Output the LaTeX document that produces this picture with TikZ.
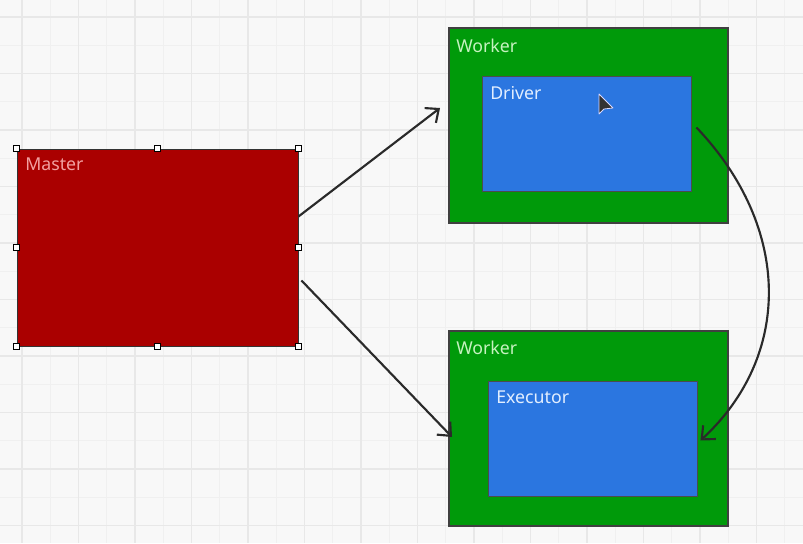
\documentclass[tikz,border=0pt]{standalone}
\usepackage{fontspec}
\setmainfont{Noto Sans}
\usetikzlibrary{arrows.meta,calc}
\definecolor{bgc}{HTML}{F8F8F8}
\definecolor{gridmaj}{HTML}{E8E8E8}
\definecolor{gridmin}{HTML}{F0F0F0}
\definecolor{mred}{HTML}{AA0000}
\definecolor{mredtext}{HTML}{F2A0A0}
\definecolor{wgreen}{HTML}{009A0A}
\definecolor{wgreentext}{HTML}{C6F2C0}
\definecolor{dblue}{HTML}{2B76E0}
\definecolor{dbluetext}{HTML}{E2EEFF}
\definecolor{linec}{HTML}{2A2A2A}
\tikzset{
  majline/.style={gridmaj, line width=0.9pt},
  minline/.style={gridmin, line width=0.6pt},
  masterbox/.style={rectangle, fill=mred, draw=black!80, line width=0.7pt, inner sep=0pt},
  workerbox/.style={rectangle, fill=wgreen, draw=black!75, line width=0.8pt, inner sep=0pt},
  innerbox/.style={rectangle, fill=dblue, draw=black!70, line width=0.7pt, inner sep=0pt},
  boxlabel/.style={anchor=north west, inner sep=0pt, font=\fontsize{13.3pt}{15pt}\selectfont},
  handle/.style={rectangle, fill=white, draw=black, line width=0.5pt, minimum size=4.5pt, inner sep=0pt},
  conn/.style={linec, line width=1.6pt, -{Straight Barb[length=8pt,width=14pt,line width=1.6pt]}},
}
\begin{document}
\begin{tikzpicture}[x=0.75pt,y=-0.75pt]
\fill[bgc] (0,0) rectangle (803,543);
\useasboundingbox (0,0) rectangle (803,543);
% grid
\foreach \i in {-1,...,14} {
  \draw[minline] ({50.25+56.5*\i},0) -- ({50.25+56.5*\i},543);
  \draw[minline] (0,{45.25+56.5*\i}) -- (803,{45.25+56.5*\i});
}
\foreach \i in {0,...,14} {
  \draw[majline] ({22+56.5*\i},0) -- ({22+56.5*\i},543);
  \draw[majline] (0,{17+56.5*\i}) -- (803,{17+56.5*\i});
}
% boxes
\node[masterbox, minimum width={281*0.75pt}, minimum height={197*0.75pt}] (master) at (157.5,247.5) {};
\node[workerbox, minimum width={279*0.75pt}, minimum height={195*0.75pt}] (worker1) at (588.5,125.5) {};
\node[innerbox, minimum width={209*0.75pt}, minimum height={115*0.75pt}] (driver) at (586.5,133.5) {};
\node[workerbox, minimum width={279*0.75pt}, minimum height={195*0.75pt}] (worker2) at (588.5,428.5) {};
\node[innerbox, minimum width={209*0.75pt}, minimum height={115*0.75pt}] (executor) at (592.5,438.5) {};
% labels
\node[boxlabel, text=mredtext] (masterlabel) at (25,158) {Master};
\node[boxlabel, text=wgreentext] (worker1label) at (456,39) {Worker};
\node[boxlabel, text=dbluetext] (driverlabel) at (490,86) {Driver};
\node[boxlabel, text=wgreentext] (worker2label) at (456,341) {Worker};
\node[boxlabel, text=dbluetext] (executorlabel) at (496,391) {Executor};
% selection handles
\foreach \a in {north west,north,north east,west,east,south west,south,south east}
  \node[handle] at (master.\a) {};
% connectors
\coordinate (m1) at ($(master.east)+(0,-31)$);
\coordinate (m2) at ($(master.east)+(3,33)$);
\coordinate (t1) at (440,108);
\coordinate (t2) at (452,437);
\coordinate (d1) at ($(driver.east)+(5,-6)$);
\coordinate (e1) at ($(executor.east)+(3,2)$);
\draw[conn] (m1) -- (t1);
\draw[conn] (m2) -- (t2);
\draw[conn] (d1) .. controls (792,228) and (792,356) .. (e1);
% mouse cursor
\draw[fill=black!80, draw=white!85!blue, line width=0.6pt, line join=round]
  (599,94) -- (599,114) -- (604,109) -- (613,108) -- cycle;
\end{tikzpicture}
\end{document}
